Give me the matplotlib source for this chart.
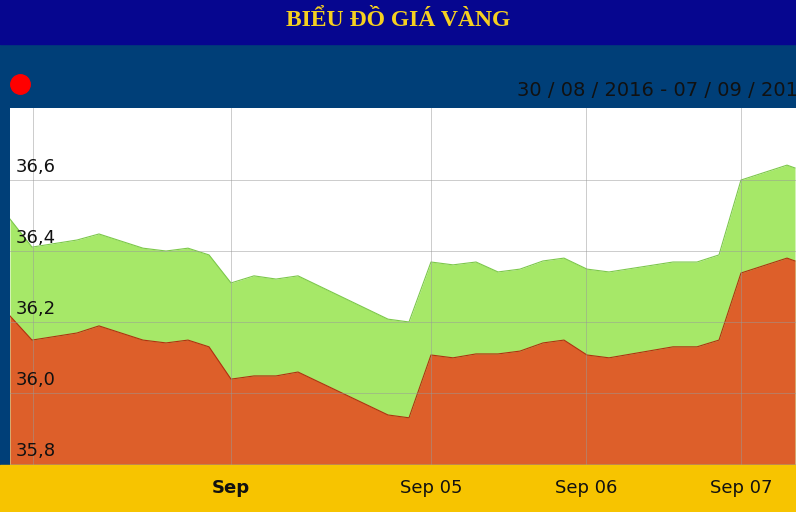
import matplotlib
matplotlib.use("Agg")
import matplotlib.pyplot as plt
from matplotlib.patches import Rectangle
from matplotlib.lines import Line2D

x_pos = [10, 32, 77, 99, 143, 166, 188, 209, 231, 254, 276, 298, 388, 409,
         431, 453, 476, 498, 520, 543, 564, 587, 609, 673, 697, 719, 741, 787, 795]
sell = [36.490, 36.411, 36.431, 36.448, 36.408, 36.400, 36.408, 36.389, 36.310, 36.330,
        36.321, 36.330, 36.208, 36.200, 36.369, 36.361, 36.369, 36.341, 36.349, 36.372,
        36.380, 36.349, 36.341, 36.369, 36.369, 36.389, 36.600, 36.642, 36.634]
buy = [36.217, 36.149, 36.169, 36.189, 36.149, 36.141, 36.149, 36.130, 36.039, 36.048,
       36.048, 36.059, 35.938, 35.930, 36.107, 36.099, 36.110, 36.110, 36.118, 36.141,
       36.149, 36.107, 36.099, 36.130, 36.130, 36.149, 36.338, 36.380, 36.372]
y_ticks = [35.8, 36.0, 36.2, 36.4, 36.6]
y_labels = ["35,8", "36,0", "36,2", "36,4", "36,6"]
x_ticks = [231, 431, 586, 741]
x_labels = ["Sep", "Sep 05", "Sep 06", "Sep 07"]

W, H = 796, 512
fig = plt.figure(figsize=(W/100, H/100), dpi=100)
fig.patch.set_facecolor("#003f78")

def fx(px): return px / W
def fy(py): return 1 - py / H

fig.patches.append(Rectangle((0, fy(44)), 1, 44/H, transform=fig.transFigure, color="#06068f", zorder=0))
fig.text(0.5, fy(20), "BIỂU ĐỒ GIÁ VÀNG", color="#f5d020", fontsize=17, fontweight="bold",
         family="Liberation Serif", ha="center", va="center")
fig.patches.append(Rectangle((0, 0), 1, 47/H, transform=fig.transFigure, color="#f7c400", zorder=0))
fig.add_artist(Line2D([fx(20)], [fy(84)], marker="o", markersize=14, color="red",
                      transform=fig.transFigure))
fig.text(fx(517), fy(90), "30 / 08 / 2016 - 07 / 09 / 2016", fontsize=14, color="#111111",
         ha="left", va="center")

ax = fig.add_axes([fx(10), fy(465), fx(786), 357/H])
ax.set_xlim(10, 796)
ax.set_ylim(35.797, 36.803)
ax.fill_between(x_pos, sell, 35.5, color="#a6e868", lw=0)
ax.plot(x_pos, sell, color="#7cc84a", lw=0.8)
ax.fill_between(x_pos, buy, 35.5, color="#dd5f2a", lw=0)
ax.plot(x_pos, buy, color="#b03010", lw=0.8)
for t in y_ticks:
    ax.axhline(t, color="#999999", lw=0.7, alpha=0.5, zorder=3)
for t in [33] + x_ticks:
    ax.axvline(t, color="#999999", lw=0.7, alpha=0.5, zorder=3)
for t, l in zip(y_ticks, y_labels):
    ax.text(16, t + 0.012, l, fontsize=13, color="#111111", ha="left", va="bottom", zorder=4)
ax.set_xticks([]); ax.set_yticks([])
for s in ax.spines.values():
    s.set_visible(False)
ax.spines["bottom"].set_visible(True)
ax.spines["bottom"].set_color("#222222")
for t, l in zip(x_ticks, x_labels):
    fig.text(fx(t), fy(488), l, fontsize=13, color="#111111", ha="center", va="center",
             fontweight="bold" if l == "Sep" else "normal")

fig.savefig("out.png", dpi=100, facecolor=fig.get_facecolor())
